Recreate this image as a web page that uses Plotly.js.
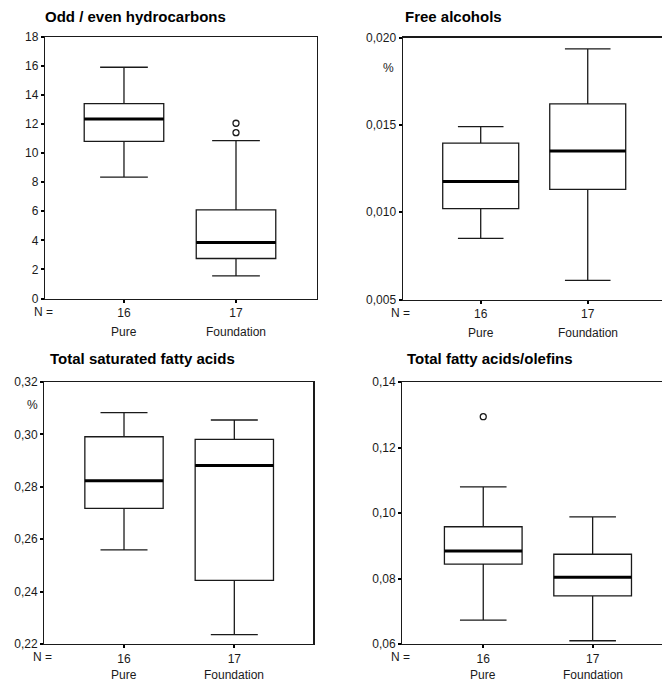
<!DOCTYPE html>
<html>
<head>
<meta charset="utf-8">
<script src="https://cdn.plot.ly/plotly-3.0.1.min.js"></script>
<style>html,body{margin:0;padding:0;background:#fff;}#chart{width:662px;height:682px;}</style>
</head>
<body>
<div id="chart"></div>
<script>
// ---- data ----
const groups = ['Pure', 'Foundation'];
const nLabels = ['16', '17'];
const positions = [0, 1];

// Odd / even hydrocarbons
const hcLow = [8.35, 1.55];
const hcQ1 = [10.8, 2.75];
const hcMedian = [12.35, 3.85];
const hcQ3 = [13.4, 6.1];
const hcHigh = [15.9, 10.85];
const hcOutlierX = [1, 1];
const hcOutlierY = [11.4, 12.05];

// Free alcohols (%)
const faLow = [0.0085, 0.0061];
const faQ1 = [0.0102, 0.0113];
const faMedian = [0.01175, 0.0135];
const faQ3 = [0.01395, 0.0162];
const faHigh = [0.0149, 0.01935];

// Total saturated fatty acids (%)
const sfLow = [0.2559, 0.2236];
const sfQ1 = [0.2718, 0.2443];
const sfMedian = [0.2823, 0.2881];
const sfQ3 = [0.2991, 0.2981];
const sfHigh = [0.3083, 0.3055];

// Total fatty acids / olefins
const foLow = [0.0673, 0.0610];
const foQ1 = [0.0844, 0.0747];
const foMedian = [0.0884, 0.0804];
const foQ3 = [0.0958, 0.0874];
const foHigh = [0.1080, 0.0988];
const foOutlierX = [0];
const foOutlierY = [0.1294];

const titles = ['Odd / even hydrocarbons', 'Free alcohols', 'Total saturated fatty acids', 'Total fatty acids/olefins'];

// ---- build ----
const W = 662, H = 682;
const font = 'Arial, "Liberation Sans", sans-serif';
const ink = '#1a1a1a';

function boxTraces(ax, low, q1, med, q3, high) {
  const xa = 'x' + (ax === 1 ? '' : ax), ya = 'y' + (ax === 1 ? '' : ax);
  return [
    {type: 'box', x: positions, q1: q1, median: med, q3: q3,
     lowerfence: low, upperfence: high, width: 0.71, whiskerwidth: 0.6,
     line: {color: ink, width: 1.3}, fillcolor: 'rgba(0,0,0,0)', boxpoints: false,
     xaxis: xa, yaxis: ya, hoverinfo: 'skip', showlegend: false},
    // thick median bar drawn as a degenerate box
    {type: 'box', x: positions, q1: med, median: med, q3: med,
     lowerfence: med, upperfence: med, width: 0.71, whiskerwidth: 0,
     line: {color: '#000', width: 3}, fillcolor: 'rgba(0,0,0,0)', boxpoints: false,
     xaxis: xa, yaxis: ya, hoverinfo: 'skip', showlegend: false}
  ];
}

const traces = [].concat(
  boxTraces(1, hcLow, hcQ1, hcMedian, hcQ3, hcHigh),
  [{type: 'scatter', mode: 'markers', x: hcOutlierX, y: hcOutlierY, xaxis: 'x', yaxis: 'y',
    marker: {symbol: 'circle-open', size: 6, color: ink, line: {width: 1.3}}, hoverinfo: 'skip', showlegend: false}],
  boxTraces(2, faLow, faQ1, faMedian, faQ3, faHigh),
  boxTraces(3, sfLow, sfQ1, sfMedian, sfQ3, sfHigh),
  boxTraces(4, foLow, foQ1, foMedian, foQ3, foHigh),
  [{type: 'scatter', mode: 'markers', x: foOutlierX, y: foOutlierY, xaxis: 'x4', yaxis: 'y4',
    marker: {symbol: 'circle-open', size: 6, color: ink, line: {width: 1.3}}, hoverinfo: 'skip', showlegend: false}]
);

function px2x(p) { return p / W; }
function px2y(p) { return 1 - p / H; }

const tickFont = {family: font, size: 12, color: ink};

function xAxis(anchor, dom, range, mirror) {
  return {anchor: anchor, domain: dom, range: range, tickvals: positions, ticktext: nLabels,
    ticks: 'outside', ticklen: 3, tickwidth: 2, tickcolor: '#000', showgrid: false, zeroline: false,
    showline: true, linecolor: ink, linewidth: 1.2, mirror: mirror, tickfont: tickFont, fixedrange: true};
}
function yAxis(anchor, dom, range, dtick, fmt, mirror) {
  return {anchor: anchor, domain: dom, range: range, dtick: dtick, tick0: range[0], tickformat: fmt,
    ticks: 'outside', ticklen: 3, tickwidth: 2, tickcolor: '#000', showgrid: false, zeroline: false,
    showline: true, linecolor: ink, linewidth: 1.2, mirror: mirror, tickfont: tickFont, fixedrange: true};
}

const d1x = [px2x(45), px2x(317)], d1y = [px2y(298.5), px2y(36.7)];
const d2x = [px2x(402.7), 1], d2y = [px2y(299.5), px2y(37.5)];
const d3x = [px2x(44.3), px2x(313.3)], d3y = [px2y(644), px2y(382)];
const d4x = [px2x(402.3), 1], d4y = [px2y(644), px2y(382)];

const layout = {
  width: W, height: H, margin: {l: 0, r: 0, t: 0, b: 0},
  paper_bgcolor: '#fff', plot_bgcolor: '#fff', showlegend: false,
  separators: ', ', boxmode: 'overlay',
  font: {family: font, color: ink},
  xaxis: xAxis('y', d1x, [-0.705, 1.723], true),
  yaxis: yAxis('x', d1y, [0, 18], 2, 'd', true),
  xaxis2: xAxis('y2', d2x, [-0.729, 1.694], true),
  yaxis2: yAxis('x2', d2y, [0.005, 0.020], 0.005, '.3f', false),
  xaxis3: xAxis('y3', d3x, [-0.7226, 1.716], true),
  yaxis3: yAxis('x3', d3y, [0.22, 0.32], 0.02, '.2f', true),
  xaxis4: xAxis('y4', d4x, [-0.740, 1.634], true),
  yaxis4: yAxis('x4', d4y, [0.06, 0.14], 0.02, '.2f', false),
  annotations: []
};

const titlePos = [[43, 16.7], [402.7, 16.7], [48.3, 358.3], [405, 358.3]];
titles.forEach((t, i) => {
  layout.annotations.push({text: '<b>' + t + '</b>', xref: 'paper', yref: 'paper',
    x: px2x(titlePos[i][0]), y: px2y(titlePos[i][1]), xanchor: 'left', yanchor: 'middle',
    showarrow: false, font: {family: font, size: 15, color: '#000'}});
});

const axSuffix = ['', '2', '3', '4'];
axSuffix.forEach((s, k) => {
  // N = label
  layout.annotations.push({text: 'N =', xref: 'x' + s + ' domain', yref: 'y' + s + ' domain',
    x: 0, y: 0, xanchor: 'center', yanchor: 'top', yshift: -4, xshift: -2,
    showarrow: false, font: {family: font, size: 12, color: ink}});
  // group names
  groups.forEach((g, j) => {
    layout.annotations.push({text: g, xref: 'x' + s, yref: 'y' + s + ' domain',
      x: positions[j], y: 0, xanchor: 'center', yanchor: 'top', yshift: k < 2 ? -24 : -22,
      showarrow: false, font: {family: font, size: 12, color: ink}});
  });
});

// % unit labels
layout.annotations.push({text: '%', xref: 'paper', yref: 'paper', x: px2x(388), y: px2y(68.3),
  xanchor: 'center', yanchor: 'middle', showarrow: false, font: {family: font, size: 12, color: ink}});
layout.annotations.push({text: '%', xref: 'paper', yref: 'paper', x: px2x(32.3), y: px2y(405),
  xanchor: 'center', yanchor: 'middle', showarrow: false, font: {family: font, size: 12, color: ink}});

Plotly.newPlot('chart', traces, layout, {staticPlot: true, displayModeBar: false});
</script>
</body>
</html>
